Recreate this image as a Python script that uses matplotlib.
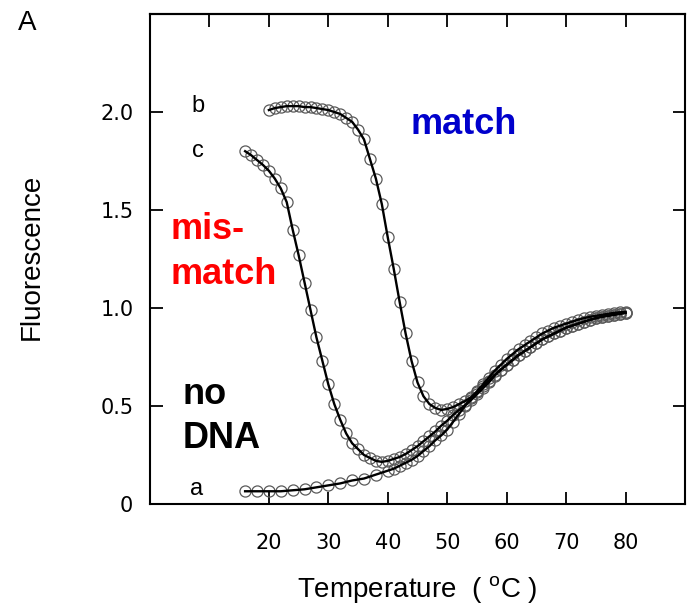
import numpy as np
import matplotlib
matplotlib.use("Agg")
import matplotlib.pyplot as plt

plt.rcParams['font.family'] = ['Liberation Sans', 'DejaVu Sans']
plt.rcParams['mathtext.fontset'] = 'custom'
plt.rcParams['mathtext.rm'] = 'Liberation Sans'

# curve a : no DNA
temp_a = [16, 18, 20, 22, 24, 26, 28, 30, 32, 34, 36, 38, 40, 41, 42, 43, 44, 45, 46, 47,
          48, 49, 50, 51, 52, 53, 54, 55, 56, 57, 58, 59, 60, 61, 62, 63, 64, 65, 66, 67,
          68, 69, 70, 71, 72, 73, 74, 75, 76, 77, 78, 79, 80]
fluo_a = [0.065, 0.065, 0.065, 0.065, 0.07, 0.075, 0.085, 0.095, 0.105, 0.12, 0.13, 0.15, 0.17, 0.18,
          0.195, 0.21, 0.225, 0.245, 0.27, 0.295, 0.325, 0.35, 0.38, 0.42, 0.46, 0.50, 0.54, 0.575,
          0.61, 0.645, 0.68, 0.71, 0.74, 0.765, 0.79, 0.81, 0.83, 0.85, 0.87, 0.885, 0.90, 0.91,
          0.92, 0.93, 0.94, 0.948, 0.955, 0.96, 0.965, 0.97, 0.975, 0.978, 0.98]

# curve b : match
temp_b = [20, 21, 22, 23, 24, 25, 26, 27, 28, 29, 30, 31, 32, 33, 34, 35, 36, 37, 38, 39,
          40, 41, 42, 43, 44, 45, 46, 47, 48, 49, 50, 51, 52, 53, 54, 55, 56, 57, 58, 59,
          60, 61, 62, 63, 64, 65, 66, 67, 68, 69, 70, 71, 72, 73, 74, 75, 76, 77, 78, 79, 80]
fluo_b = [2.01, 2.02, 2.025, 2.03, 2.03, 2.03, 2.025, 2.025, 2.02, 2.015, 2.01, 2.0, 1.99, 1.97,
          1.95, 1.91, 1.86, 1.76, 1.66, 1.53, 1.36, 1.20, 1.03, 0.87, 0.73, 0.62, 0.55, 0.51,
          0.49, 0.48, 0.485, 0.495, 0.51, 0.525, 0.545, 0.57, 0.60, 0.63, 0.66, 0.685, 0.71,
          0.735, 0.76, 0.78, 0.80, 0.82, 0.84, 0.855, 0.87, 0.885, 0.90, 0.91, 0.92, 0.93,
          0.94, 0.948, 0.955, 0.96, 0.965, 0.97, 0.975]

# curve c : mismatch
temp_c = [16, 17, 18, 19, 20, 21, 22, 23, 24, 25, 26, 27, 28, 29, 30, 31, 32, 33, 34, 35,
          36, 37, 38, 39, 40, 41, 42, 43, 44, 45, 46, 47, 48, 49, 50, 51, 52, 53, 54, 55,
          56, 57, 58, 59, 60, 61, 62, 63, 64, 65, 66, 67, 68, 69, 70, 71, 72, 73, 74, 75,
          76, 77, 78, 79, 80]
fluo_c = [1.80, 1.78, 1.755, 1.73, 1.70, 1.66, 1.61, 1.54, 1.40, 1.27, 1.13, 0.99, 0.85, 0.73,
          0.61, 0.51, 0.43, 0.36, 0.31, 0.28, 0.25, 0.235, 0.22, 0.215, 0.22, 0.23, 0.24, 0.255,
          0.275, 0.295, 0.32, 0.345, 0.37, 0.40, 0.425, 0.455, 0.48, 0.505, 0.53, 0.56, 0.59,
          0.62, 0.655, 0.685, 0.71, 0.735, 0.76, 0.78, 0.80, 0.82, 0.84, 0.855, 0.87, 0.885,
          0.90, 0.91, 0.92, 0.93, 0.94, 0.948, 0.955, 0.96, 0.965, 0.97, 0.975]

xticks = [20, 30, 40, 50, 60, 70, 80]
yticks = [0, 0.5, 1.0, 1.5, 2.0]
ytick_labels = ['0', '0.5', '1.0', '1.5', '2.0']

fig = plt.figure(figsize=(6.96, 6.08), dpi=100)
ax = fig.add_axes([150/696, 104/608, 535/696, 490/608])

for t, f in [(temp_a, fluo_a), (temp_b, fluo_b), (temp_c, fluo_c)]:
    ax.plot(t, f, '-', color='black', lw=1.7, zorder=3)
    ax.plot(t, f, 'o', mfc='none', mec='#5a5a5a', mew=0.9, ms=8, zorder=2)

ax.set_xlim(0, 90)
ax.set_ylim(0, 2.5)
ax.set_xticks(xticks)
ax.set_xticklabels([str(v) for v in xticks], family='DejaVu Sans', fontsize=15)
ax.set_yticks(yticks)
ax.set_yticklabels(ytick_labels, family='DejaVu Sans', fontsize=15)
ax.tick_params(direction='in', length=9, width=1.3, right=True)
ax.tick_params(axis='x', pad=21)
ax.tick_params(axis='y', pad=12)
top = ax.secondary_xaxis('top')
top.set_xticks([10, 20, 30, 40, 50, 60, 70, 80])
top.tick_params(direction='in', length=9, width=1.3, labeltop=False)
for s in ax.spines.values():
    s.set_linewidth(1.5)
top.spines['top'].set_linewidth(1.5)

fig.text(417/696, 10/608, 'Temperature  ( $^{\\mathrm{o}}$C )', fontsize=20,
         ha='center', va='baseline')
fig.text(32/696, 1 - 257/608, 'Fluorescence', fontsize=20, rotation=90,
         ha='center', va='center')

ax.text(43.8, 1.89, 'match', color='#0000CC', fontsize=26, fontweight='bold', va='baseline')
ax.text(3.4, 1.35, 'mis-', color='red', fontsize=26, fontweight='bold', va='baseline')
ax.text(3.4, 1.12, 'match', color='red', fontsize=26, fontweight='bold', va='baseline')
ax.text(5.5, 0.51, 'no', color='black', fontsize=26, fontweight='bold', va='baseline')
ax.text(5.5, 0.285, 'DNA', color='black', fontsize=26, fontweight='bold', va='baseline')
ax.text(7.0, 2.0, 'b', fontsize=17, va='baseline')
ax.text(7.0, 1.77, 'c', fontsize=17, va='baseline')
ax.text(6.8, 0.046, 'a', fontsize=17, va='baseline')

fig.text(18/696, 1 - 30/608, 'A', fontsize=20)

fig.savefig('out.png', dpi=100)
